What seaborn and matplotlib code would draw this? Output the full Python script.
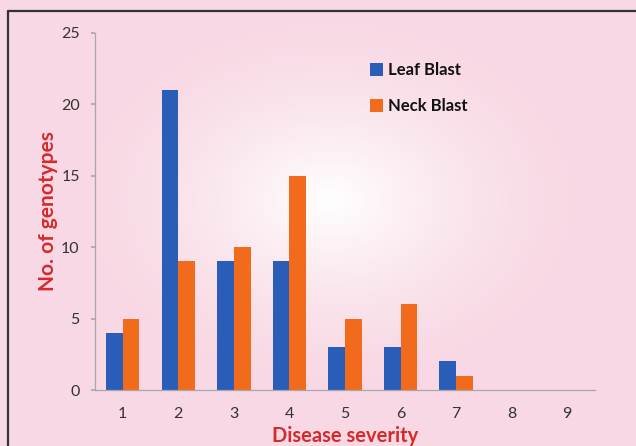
import numpy as np
import pandas as pd
import matplotlib.pyplot as plt
import seaborn as sns
from matplotlib.lines import Line2D

severity = ['1', '2', '3', '4', '5', '6', '7', '8', '9']
leaf_blast = [4, 21, 9, 9, 3, 3, 2, 0, 0]
neck_blast = [5, 9, 10, 15, 5, 6, 1, 0, 0]
series = ['Leaf Blast', 'Neck Blast']
colors = ['#2A5DB8', '#F26A1B']

df = pd.DataFrame({
    'severity': severity * 2,
    'count': leaf_blast + neck_blast,
    'series': [series[0]] * len(severity) + [series[1]] * len(severity),
})

sns.set_theme(style='white')
plt.rcParams['font.family'] = ['Lato', 'DejaVu Sans']

fig = plt.figure(figsize=(6.36, 4.46), dpi=100)
fig.patch.set_facecolor('#F8D8E4')

# soft radial glow behind the plot
bg = fig.add_axes([0, 0, 1, 1], zorder=-1)
yy, xx = np.mgrid[0:446, 0:636]
d = np.sqrt(((xx - 330) / 260.0) ** 2 + ((yy - 200) / 190.0) ** 2)
w = np.clip(1 - d, 0, 1) ** 1.5
edge = np.array([248, 216, 228]) / 255.0
img = edge[None, None, :] * (1 - w[..., None]) + np.ones(3)[None, None, :] * w[..., None]
bg.imshow(img, aspect='auto', extent=[0, 1, 0, 1])
bg.set_axis_off()

# black frame at top and left
fig.add_artist(Line2D([8 / 636, 1], [1 - 10.5 / 446] * 2, color='#333333', lw=1.6))
fig.add_artist(Line2D([8 / 636] * 2, [0, 1 - 10.5 / 446], color='#333333', lw=1.6))

ax = fig.add_axes([95 / 636, 1 - 390 / 446, 500 / 636, 357 / 446])
ax.set_facecolor('none')
sns.barplot(data=df, x='severity', y='count', hue='series', palette=colors,
            width=0.6, saturation=1, linewidth=0, ax=ax, legend=True)

ax.set_ylim(0, 25)
ax.set_xlim(-0.5, 8.5)
ax.set_yticks([0, 5, 10, 15, 20, 25])
for s in ['top', 'right']:
    ax.spines[s].set_visible(False)
for s in ['left', 'bottom']:
    ax.spines[s].set_color('#A8A8A8')
    ax.spines[s].set_linewidth(0.9)
ax.tick_params(axis='y', length=3, color='#A8A8A8', pad=8, labelsize=11.5, labelcolor='#333333', left=True)
ax.tick_params(axis='x', length=0, pad=12, labelsize=11.5, labelcolor='#333333')

ax.set_ylabel('No. of genotypes', color='#D42A2A', fontsize=15, fontweight='bold', labelpad=2)
ax.set_xlabel('Disease severity', color='#D42A2A', fontsize=14.5, fontweight='bold', labelpad=4)

leg = ax.legend(loc='upper left', bbox_to_anchor=(0.52, 0.96), frameon=False,
                handlelength=0.8, handleheight=0.8, handletextpad=0.3,
                labelspacing=1.2, fontsize=12)
for t in leg.get_texts():
    t.set_fontweight('bold')
    t.set_color('#111111')

fig.savefig('out.png', dpi=100)
